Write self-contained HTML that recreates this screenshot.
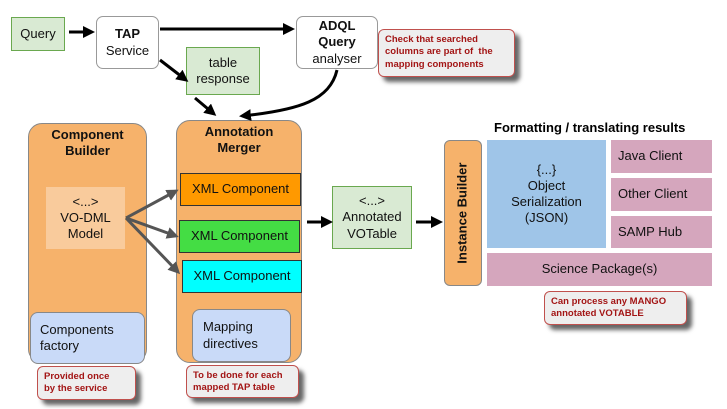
<!DOCTYPE html>
<html><head><meta charset="utf-8"><style>
body{margin:0;width:727px;height:409px;background:#fff;position:relative;overflow:hidden;font-family:"Liberation Sans",sans-serif;}
.b{position:absolute;box-sizing:border-box;display:flex;align-items:center;justify-content:center;text-align:center;font-size:13px;color:#111;line-height:1.25;}
.note{position:absolute;box-sizing:border-box;background:#eee;border:1px solid #c0504d;border-radius:6px;color:#a31515;font-weight:bold;font-size:9.5px;padding:4px 6px;line-height:1.3;box-shadow:5px 5px 4px #666;}
svg{position:absolute;left:0;top:0}
</style></head><body>
<div class="b" style="left:11px;top:17px;width:54px;height:34px;background:#d9ead3;border:1px solid #6aa84f;">Query</div>
<div class="b" style="left:96px;top:16px;width:63px;height:53px;background:#fff;border:1px solid #999;border-radius:7px;"><div><b>TAP</b><br>Service</div></div>
<div class="b" style="left:296px;top:16px;width:82px;height:53px;background:#fff;border:1px solid #999;border-radius:7px;"><div><b>ADQL<br>Query</b><br>analyser</div></div>
<div class="note" style="left:378px;top:29px;width:137px;height:48px;">Check that searched columns are part of &nbsp;the mapping components</div>
<div class="b" style="left:186px;top:47px;width:74px;height:48px;background:#d9ead3;border:1px solid #6aa84f;">table<br>response</div>

<div class="b" style="left:28px;top:123px;width:119px;height:240px;background:#f6b26b;border:1px solid #888;border-radius:14px;align-items:flex-start;padding-top:3px;font-weight:bold;">Component<br>Builder</div>
<div class="b" style="left:46px;top:187px;width:79px;height:62px;background:#f9cb9c;">&lt;...&gt;<br>VO-DML<br>Model</div>
<div class="b" style="left:30px;top:312px;width:115px;height:52px;background:#c9daf8;border:1px solid #888;border-radius:8px;justify-content:flex-start;text-align:left;padding-left:9px;">Components<br>factory</div>
<div class="note" style="left:37px;top:366px;width:99px;height:34px;">Provided once<br>by the service</div>

<div class="b" style="left:176px;top:120px;width:126px;height:243px;background:#f6b26b;border:1px solid #888;border-radius:14px;align-items:flex-start;padding-top:3px;font-weight:bold;">Annotation<br>Merger</div>
<div class="b" style="left:180px;top:173px;width:121px;height:33px;background:#ff9900;border:1px solid #333;">XML Component</div>
<div class="b" style="left:179px;top:220px;width:121px;height:33px;background:#44dd44;border:1px solid #333;">XML Component</div>
<div class="b" style="left:182px;top:260px;width:120px;height:33px;background:#00ffff;border:1px solid #333;">XML Component</div>
<div class="b" style="left:192px;top:309px;width:99px;height:53px;background:#c9daf8;border:1px solid #888;border-radius:8px;justify-content:flex-start;text-align:left;padding-left:10px;">Mapping<br>directives</div>
<div class="note" style="left:186px;top:365px;width:113px;height:33px;">To be done for each mapped TAP table</div>

<div class="b" style="left:332px;top:186px;width:80px;height:63px;background:#d9ead3;border:1px solid #6aa84f;">&lt;...&gt;<br>Annotated<br>VOTable</div>

<div class="b" style="left:444px;top:140px;width:38px;height:146px;background:#f6b26b;border:1px solid #888;border-radius:6px;"><div style="transform:rotate(-90deg);white-space:nowrap;font-weight:bold;font-size:13px;">Instance Builder</div></div>
<div style="position:absolute;left:494px;top:120px;font-weight:bold;font-size:13px;">Formatting / translating results</div>
<div class="b" style="left:487px;top:140px;width:119px;height:108px;background:#9fc5e8;">{...}<br>Object<br>Serialization<br>(JSON)</div>
<div class="b" style="left:611px;top:140px;width:101px;height:33px;background:#d5a6bd;justify-content:flex-start;padding-left:7px;">Java Client</div>
<div class="b" style="left:611px;top:178px;width:101px;height:33px;background:#d5a6bd;justify-content:flex-start;padding-left:7px;">Other Client</div>
<div class="b" style="left:611px;top:216px;width:101px;height:32px;background:#d5a6bd;justify-content:flex-start;padding-left:7px;">SAMP Hub</div>
<div class="b" style="left:487px;top:253px;width:225px;height:33px;background:#d5a6bd;">Science Package(s)</div>
<div class="note" style="left:544px;top:291px;width:143px;height:34px;">Can process any MANGO annotated VOTABLE</div>

<svg width="727" height="409">
<defs>
<marker id="a" markerWidth="4" markerHeight="4" refX="3" refY="2" orient="auto"><path d="M0,0L4,2L0,4z" fill="#000"/></marker>
<marker id="g" markerWidth="4" markerHeight="4" refX="3" refY="2" orient="auto"><path d="M0,0L4,2L0,4z" fill="#555"/></marker>
</defs>
<g stroke="#000" stroke-width="3" fill="none" marker-end="url(#a)">
<path d="M69,32L92,32"/>
<path d="M160,29L292,29"/>
<path d="M160,60L186,80"/>
<path d="M195,98L214,114"/>
<path d="M337,70C330,100 300,110 242,116"/>
<path d="M307,222L330,222"/>
<path d="M416,222L440,222"/>
</g>
<g stroke="#555" stroke-width="3" fill="none" marker-end="url(#g)">
<path d="M126,218L176,191"/>
<path d="M126,218L176,236"/>
<path d="M126,218L178,272"/>
</g>
</svg>
</body></html>
